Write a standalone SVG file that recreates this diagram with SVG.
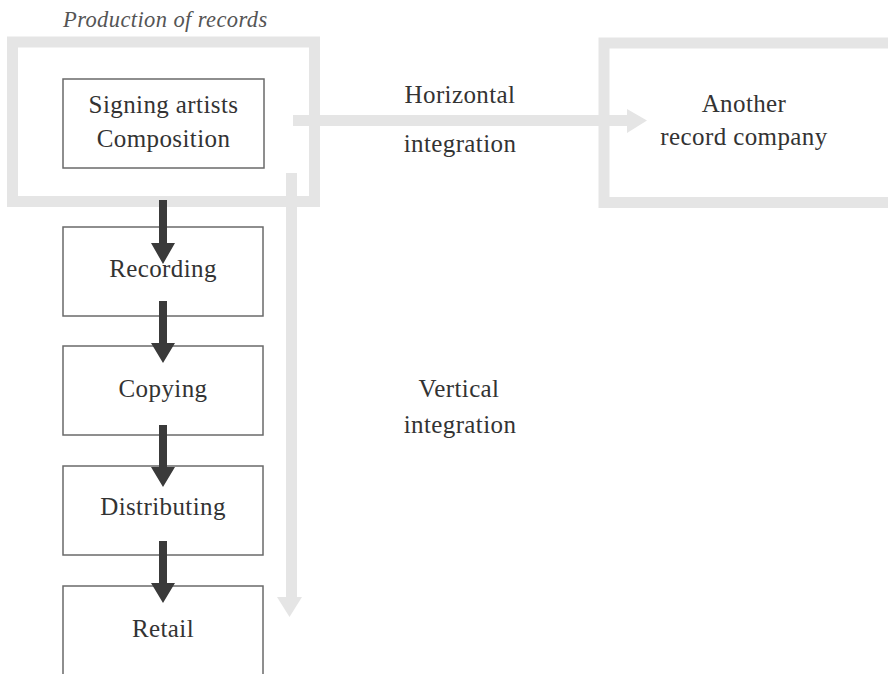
<svg xmlns="http://www.w3.org/2000/svg" width="888" height="674" viewBox="0 0 888 674">
<style>
.frame{fill:none;stroke:#e5e5e5;stroke-width:11}
.box{fill:#fff;stroke:#6a6a6a;stroke-width:1.5}
.t{font-family:"Liberation Serif","Times New Roman",serif;font-size:25px;fill:#333;text-anchor:middle;letter-spacing:0.4px}
.ti{font-family:"Liberation Serif","Times New Roman",serif;font-size:22.5px;font-style:italic;fill:#555;letter-spacing:0.4px}
.g{fill:#e5e5e5}
.d{fill:#3a3a3a}
</style>
<rect width="888" height="674" fill="#fff"/>
<text class="ti" x="63" y="27">Production of records</text>
<g id="production-frame"><rect class="frame" x="12.5" y="42" width="302" height="159.5"/></g>
<g id="other-frame"><rect class="frame" x="604" y="43" width="290" height="159.5"/></g>
<g id="signing"><rect class="box" x="63" y="79" width="201" height="89"/><text class="t" x="163.5" y="113">Signing artists</text><text class="t" x="163.5" y="147">Composition</text></g>
<g id="another"><text class="t" x="744" y="112">Another</text><text class="t" x="744" y="145">record company</text></g>
<g id="recording"><rect class="box" x="63" y="227" width="200" height="89"/><text class="t" x="163" y="277">Recording</text></g>
<g id="copying"><rect class="box" x="63" y="346" width="200" height="89"/><text class="t" x="163" y="397">Copying</text></g>
<g id="distributing"><rect class="box" x="63" y="466" width="200" height="89"/><text class="t" x="163" y="515">Distributing</text></g>
<g id="retail"><rect class="box" x="63" y="586" width="200" height="100"/><text class="t" x="163" y="637">Retail</text></g>
<g id="connectors">
<polygon class="g" points="293,115 627,115 627,109 647,120.5 627,133 627,126 293,126"/>
<polygon class="g" points="286,173 297,173 297,597 302,597 289.5,617 277,597 286,597"/>
<polygon class="d" points="159,200 167,200 167,243 175,243 163,264 151,243 159,243"/>
<polygon class="d" points="159,301 167,301 167,343 175,343 163,363 151,343 159,343"/>
<polygon class="d" points="159,425 167,425 167,467 175,467 163,487 151,467 159,467"/>
<polygon class="d" points="159,541 167,541 167,583 175,583 163,603 151,583 159,583"/>
</g>
<g id="labels">
<text class="t" x="460" y="103">Horizontal</text>
<text class="t" x="460" y="152">integration</text>
<text class="t" x="459" y="397">Vertical</text>
<text class="t" x="460" y="433">integration</text>
</g>
</svg>
